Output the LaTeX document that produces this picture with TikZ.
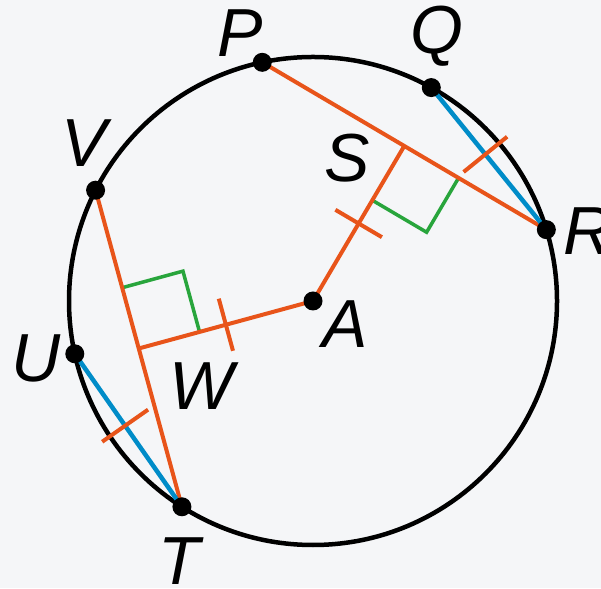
\documentclass[tikz,border=0pt]{standalone}
\usepackage{fontspec}
\setmainfont{Liberation Sans}
\usetikzlibrary{calc}
\definecolor{bg}{RGB}{245,246,248}
\definecolor{org}{RGB}{232,84,26}
\definecolor{blu}{RGB}{0,140,200}
\definecolor{grn}{RGB}{40,165,60}
\begin{document}
\begin{tikzpicture}[x=1pt,y=1pt,
  circ/.style={black,line width=4.5pt},
  seg/.style={org,line width=4pt},
  chordb/.style={blu,line width=4.5pt},
  rmark/.style={grn,line width=3.5pt},
  dot/.style={circle,fill=black,inner sep=0pt,minimum size=19pt},
  lbl/.style={inner sep=0pt,anchor=base,font=\fontsize{68}{68}\selectfont\itshape}]
\fill[bg] (0,0) rectangle (601,588);
\useasboundingbox (0,0) rectangle (601,588);
\coordinate (A) at (313,287);
\coordinate (P) at ($(A)+(102:244)$);
\coordinate (Q) at ($(A)+(61:244)$);
\coordinate (R) at ($(A)+(17:244)$);
\coordinate (V) at ($(A)+(153:244)$);
\coordinate (U) at ($(A)+(192.5:244)$);
\coordinate (T) at ($(A)+(237.5:244)$);
\coordinate (S) at ($(P)!(A)!(R)$);
\coordinate (W) at ($(V)!(A)!(T)$);
% right angle marks
\coordinate (S1) at ($(S)!63pt!(A)$);
\coordinate (S2) at ($(S)!63pt!(R)$);
\coordinate (S3) at ($(S1)+(S2)-(S)$);
\coordinate (W1) at ($(W)!63pt!(A)$);
\coordinate (W2) at ($(W)!63pt!(V)$);
\coordinate (W3) at ($(W1)+(W2)-(W)$);
\draw[rmark] (S1) -- (S3) -- (S2);
\draw[rmark] (W1) -- (W3) -- (W2);
% circle
\draw[circ] (A) circle (244);
% chords
\draw[seg] (P) -- (R);
\draw[seg] (V) -- (T);
\draw[seg] (A) -- (S);
\draw[seg] (A) -- (W);
\draw[chordb] (Q) -- (R);
\draw[chordb] (U) -- (T);
% tick marks
\coordinate (M1) at ($(A)!0.5!(S)$);
\coordinate (M2) at ($(A)!0.5!(W)$);
\coordinate (M3) at ($(Q)!0.47!(R)$);
\coordinate (M4) at ($(U)!0.47!(T)$);
\draw[seg] ($(M1)!27pt!90:(S)$) -- ($(M1)!27pt!-90:(S)$);
\draw[seg] ($(M2)!27pt!90:(W)$) -- ($(M2)!27pt!-90:(W)$);
\draw[seg] ($(M3)!28pt!90:(R)$) -- ($(M3)!28pt!-90:(R)$);
\draw[seg] ($(M4)!28pt!90:(T)$) -- ($(M4)!28pt!-90:(T)$);
% dots
\node[dot] (Ad) at (A) {};
\node[dot] (Pd) at (P) {};
\node[dot] (Qd) at (Q) {};
\node[dot] (Rd) at (R) {};
\node[dot] (Vd) at (V) {};
\node[dot] (Ud) at (U) {};
\node[dot] (Td) at (T) {};
% labels
\node[lbl] (Pl) at (240,531) {P};
\node[lbl] (Ql) at (437,534) {Q};
\node[lbl] (Vl) at (84,421) {V};
\node[lbl] (Ul) at (36,206) {U};
\node[lbl] (Tl) at (179,4) {T};
\node[lbl] (Rl) at (588,333) {R};
\node[lbl] (Al) at (345,240) {A};
\node[lbl] (Sl) at (347,406) {S};
\node[lbl] (Wl) at (202,178) {W};
\end{tikzpicture}
\end{document}
